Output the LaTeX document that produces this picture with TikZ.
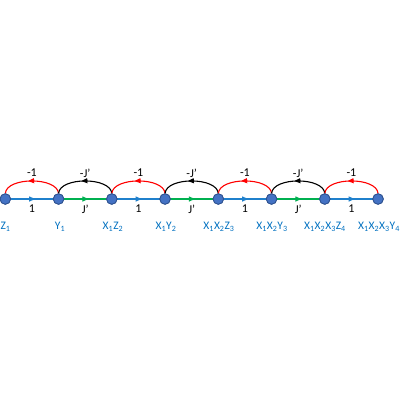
\documentclass[tikz,border=0pt]{standalone}
\usepackage{fontspec}
\setmainfont{Carlito}
\usetikzlibrary{arrows.meta,decorations.markings,calc}
\definecolor{nodefill}{HTML}{4472C4}
\definecolor{nodeedge}{HTML}{2F528F}
\definecolor{lblue}{HTML}{0070C0}
\definecolor{bondblue}{HTML}{1F80CC}
\definecolor{lgreen}{HTML}{00B050}
\definecolor{lred}{HTML}{FF0000}
\tikzset{
  site/.style={circle,fill=nodefill,draw=nodeedge,line width=0.8pt,minimum size=10.5pt,inner sep=0pt},
  sitelbl/.style={text=lblue,font=\fontsize{11.5}{13}\selectfont,inner sep=0pt,anchor=center},
  elbl/.style={text=black,font=\fontsize{12}{14}\selectfont,inner sep=0pt},
  midarrow/.style={postaction={decorate},decoration={markings,mark=at position 0.56 with {\arrow{Triangle[length=6pt,width=5pt]}}}},
  bond/.style={line width=1.15pt,midarrow},
  hop/.style={line width=1.1pt,midarrow,out=95,in=85,looseness=0.8},
}
\begin{document}
\begin{tikzpicture}[x=1pt,y=-1pt]
\useasboundingbox (0,0) rectangle (400,400);
\foreach \i in {0,...,7} {
  \coordinate (p\i) at ({5.3+53.25*\i},199);
}
% straight bonds
\draw[bond,bondblue] (p0) -- (p1);
\draw[bond,lgreen]   (p1) -- (p2);
\draw[bond,bondblue] (p2) -- (p3);
\draw[bond,lgreen]   (p3) -- (p4);
\draw[bond,bondblue] (p4) -- (p5);
\draw[bond,lgreen]   (p5) -- (p6);
\draw[bond,bondblue] (p6) -- (p7);
% sites
\foreach \i in {0,...,7} { \node[site] (n\i) at (p\i) {}; }
% arcs
\draw[hop,lred] (n1.north) to (n0.north);
\draw[hop,black] (n2.north) to (n1.north);
\draw[hop,lred] (n3.north) to (n2.north);
\draw[hop,black] (n4.north) to (n3.north);
\draw[hop,lred] (n5.north) to (n4.north);
\draw[hop,black] (n6.north) to (n5.north);
\draw[hop,lred] (n7.north) to (n6.north);
% redraw sites on top
\foreach \i in {0,...,7} { \node[site] at (p\i) {}; }
% edge labels
\foreach \i/\j/\t/\b in {0/1/-1/1,1/2/-J’/J’,2/3/-1/1,3/4/-J’/J’,4/5/-1/1,5/6/-J’/J’,6/7/-1/1} {
  \node[elbl] (t\i) at ($(p\i)!0.5!(p\j)+(0,-26)$) {\t};
  \node[elbl] (b\i) at ($(p\i)!0.5!(p\j)+(0,10)$) {\b};
}
% site labels
\node[sitelbl] (l0) at (5.5,227) {Z\textsubscript{1}};
\node[sitelbl] (l1) at (60,227) {Y\textsubscript{1}};
\node[sitelbl] (l2) at (113,227) {X\textsubscript{1}Z\textsubscript{2}};
\node[sitelbl] (l3) at (166,227) {X\textsubscript{1}Y\textsubscript{2}};
\node[sitelbl] (l4) at (219,227) {X\textsubscript{1}X\textsubscript{2}Z\textsubscript{3}};
\node[sitelbl] (l5) at (272,227) {X\textsubscript{1}X\textsubscript{2}Y\textsubscript{3}};
\node[sitelbl] (l6) at (325,227) {X\textsubscript{1}X\textsubscript{2}X\textsubscript{3}Z\textsubscript{4}};
\node[sitelbl] (l7) at (379,227) {X\textsubscript{1}X\textsubscript{2}X\textsubscript{3}Y\textsubscript{4}};
\end{tikzpicture}
\end{document}
